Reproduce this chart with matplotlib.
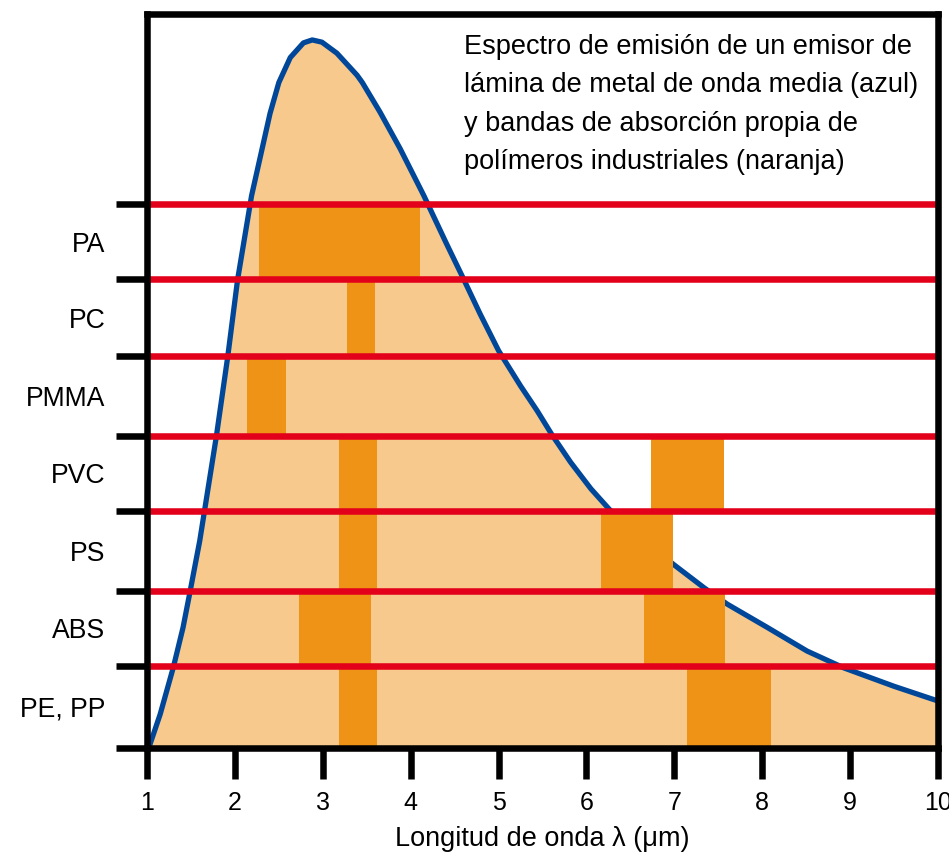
import matplotlib
matplotlib.use('Agg')
import matplotlib.pyplot as plt

plt.rcParams['font.family'] = ['Liberation Sans', 'DejaVu Sans']

# Emission spectrum (relative intensity, axis top = 100)
wavelength = [1.02, 1.15, 1.30, 1.41, 1.49, 1.60, 1.79, 1.92, 2.03, 2.19, 2.31, 2.40,
              2.50, 2.63, 2.78, 2.88, 2.99, 3.16, 3.39, 3.45, 3.65, 3.88, 4.15, 4.41,
              4.60, 4.79, 5.00, 5.25, 5.44, 5.61, 5.82, 6.05, 6.26, 6.62, 6.99, 7.34,
              7.60, 8.06, 8.51, 8.93, 9.50, 10.0]
intensity = [0.0, 4.6, 11.0, 16.4, 21.3, 28.2, 42.5, 53.4, 63.7, 75.2, 81.6, 86.4,
             90.6, 94.0, 96.0, 96.4, 96.1, 94.6, 91.6, 90.6, 86.6, 81.6, 75.2, 68.6,
             63.9, 59.1, 54.1, 49.3, 45.9, 42.6, 38.9, 35.3, 32.5, 28.6, 25.0, 21.8,
             19.6, 16.4, 13.2, 10.9, 8.4, 6.4]

# Polymer rows (bottom to top) and row boundaries
polymers = ['PE, PP', 'ABS', 'PS', 'PVC', 'PMMA', 'PC', 'PA']
row_edges = [0.0, 11.2, 21.4, 32.3, 42.5, 53.4, 63.8, 74.1]

# Absorption bands
band_polymer = ['PE, PP', 'PE, PP', 'ABS', 'ABS', 'PS', 'PS', 'PVC', 'PVC',
                'PMMA', 'PC', 'PA']
band_start = [3.18, 7.14, 2.73, 6.66, 3.18, 6.17, 3.18, 6.74, 2.14, 3.28, 2.27]
band_end = [3.62, 8.10, 3.55, 7.58, 3.62, 6.99, 3.62, 7.56, 2.58, 3.59, 4.11]

x_ticks = [1, 2, 3, 4, 5, 6, 7, 8, 9, 10]

light = '#F7C98C'
dark = '#EF9317'
blue = '#00479A'
red = '#E2001A'

fig = plt.figure(figsize=(9.49, 8.59), dpi=100)
ax = fig.add_axes([147 / 949, 1 - 748 / 859, (938 - 147) / 949, (748 - 13.5) / 859])

ax.fill_between(wavelength, intensity, 0, color=light, lw=0, zorder=1)
ax.plot(wavelength, intensity, color=blue, lw=3.8, solid_capstyle='butt',
        solid_joinstyle='round', zorder=2)

for p, s, e in zip(band_polymer, band_start, band_end):
    i = polymers.index(p)
    ax.bar(x=s, height=row_edges[i + 1] - row_edges[i], width=e - s,
           bottom=row_edges[i], align='edge', color=dark, lw=0, zorder=3)

for y in row_edges[1:]:
    ax.axhline(y, color=red, lw=4.7, zorder=4)

ax.set_xlim(1, 10)
ax.set_ylim(0, 100)

for sp in ax.spines.values():
    sp.set_linewidth(4.7)
    sp.set_color('black')
    sp.set_zorder(6)

ax.set_xticks(x_ticks)
ax.set_xticklabels([str(t) for t in x_ticks])
ax.tick_params(axis='x', which='major', direction='out', length=22, width=4.7,
               labelsize=18, pad=9)

ax.set_yticks(row_edges)
ax.set_yticklabels([])
ax.tick_params(axis='y', which='major', direction='out', length=22, width=4.7)
centers = [(row_edges[i] + row_edges[i + 1]) / 2 for i in range(len(polymers))]
ax.set_yticks(centers, minor=True)
ax.set_yticklabels(polymers, minor=True)
ax.tick_params(axis='y', which='minor', length=0, labelsize=19.2, pad=30)
ax.xaxis.set_zorder(6)
ax.yaxis.set_zorder(6)

ax.set_xlabel('Longitud de onda λ (μm)', fontsize=19.5, labelpad=8)

ax.text(0.401, 0.972,
        'Espectro de emisión de un emisor de\n'
        'lámina de metal de onda media (azul)\n'
        'y bandas de absorción propia de\n'
        'polímeros industriales (naranja)',
        transform=ax.transAxes, ha='left', va='top', fontsize=19.5,
        linespacing=1.62, zorder=7)

fig.savefig('out.png', dpi=100)
